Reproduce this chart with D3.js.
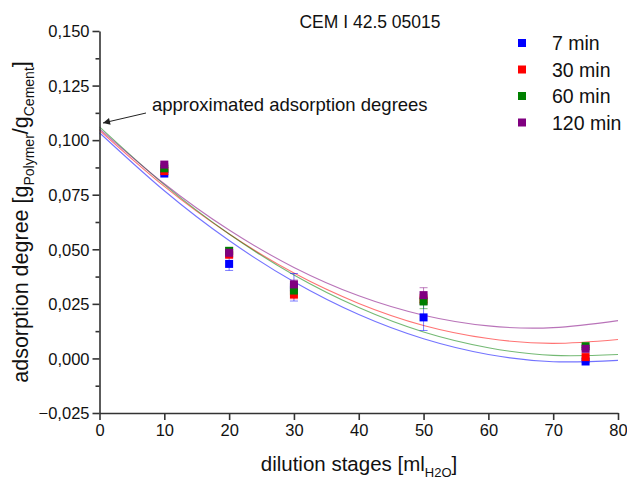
<!DOCTYPE html>
<html>
<head>
<meta charset="utf-8">
<script src="https://cdn.jsdelivr.net/npm/d3@7"></script>
<style>
  body { margin: 0; background: #fff; }
  text { font-family: "Liberation Sans", Arial, sans-serif; fill: #111; }
</style>
</head>
<body>
<div id="chart"></div>
<script>
// dilution stages where adsorption was measured
var stages = [10, 20, 30, 50, 75];
var seriesNames = ["7 min", "30 min", "60 min", "120 min"];
var seriesColors = ["#0000ff", "#ff0000", "#008000", "#800080"];

// measured adsorption degree per series
var ads7 = [0.0847, 0.0433, 0.0326, 0.0188, -0.0014];
var ads30 = [0.0858, 0.0475, 0.0293, 0.0270, 0.0006];
var ads60 = [0.0871, 0.0493, 0.0311, 0.0261, 0.0056];
var ads120 = [0.0888, 0.0484, 0.0339, 0.0290, 0.0044];

// error bars (+/-)
var err7 = [0.0005, 0.0030, 0.0063, 0.0060, 0.0005];
var err30 = [0.0005, 0.0010, 0.0020, 0.0020, 0.0005];
var err60 = [0.0005, 0.0015, 0.0020, 0.0033, 0.0005];
var err120 = [0.0005, 0.0015, 0.0020, 0.0034, 0.0005];

// fitted curves read at 0,10,...,80
var fitX = [0, 10, 20, 30, 40, 50, 60, 70, 80];
var fit7 = [0.1034, 0.0768, 0.0540, 0.0351, 0.0201, 0.0090, 0.0018, -0.0015, -0.0009];
var fit30 = [0.1045, 0.0788, 0.0570, 0.0391, 0.0252, 0.0151, 0.0091, 0.0069, 0.0087];
var fit60 = [0.1061, 0.0796, 0.0570, 0.0382, 0.0233, 0.0121, 0.0049, 0.0014, 0.0018];
var fit120 = [0.1052, 0.0800, 0.0588, 0.0417, 0.0287, 0.0198, 0.0149, 0.0141, 0.0173];

var xTicks = [0, 10, 20, 30, 40, 50, 60, 70, 80];
var yTicks = [-0.025, 0, 0.025, 0.05, 0.075, 0.1, 0.125, 0.15];

var measured = [ads7, ads30, ads60, ads120];
var errors = [err7, err30, err60, err120];
var fits = [fit7, fit30, fit60, fit120];

var W = 627, H = 480;
var margin = {top: 31, right: 9, bottom: 67, left: 99.5},
	width = W - margin.left - margin.right,
	height = H - margin.top - margin.bottom;

var svg = d3.select("#chart")
	.append("svg")
	.attr("width", W)
	.attr("height", H);

var g = svg.append("g")
	.attr("transform", "translate(" + margin.left + "," + margin.top + ")");

var x = d3.scaleLinear().domain([0, 80]).range([0, width]);
var y = d3.scaleLinear().domain([-0.025, 0.15]).range([height, 0]);

var fmt = function(d) { return d3.format(".3f")(d).replace(".", ","); };

// fitted curves (drawn first, under the squares)
var line = d3.line()
	.x(function(d) { return x(d[0]); })
	.y(function(d) { return y(d[1]); })
	.curve(d3.curveNatural);

fits.forEach(function(f, i) {
	g.append("path")
		.datum(fitX.map(function(v, j) { return [v, f[j]]; }))
		.attr("fill", "none")
		.attr("stroke", seriesColors[i])
		.attr("stroke-opacity", 0.55)
		.attr("stroke-width", 1.1)
		.attr("d", line);
});

// error bars
measured.forEach(function(vals, i) {
	var eb = g.append("g")
		.attr("stroke", seriesColors[i])
		.attr("stroke-opacity", 0.5)
		.attr("stroke-width", 1);
	stages.forEach(function(s, j) {
		var cx = x(s), lo = y(vals[j] - errors[i][j]), hi = y(vals[j] + errors[i][j]);
		eb.append("line").attr("x1", cx).attr("x2", cx).attr("y1", lo).attr("y2", hi);
		eb.append("line").attr("x1", cx - 4).attr("x2", cx + 4).attr("y1", lo).attr("y2", lo);
		eb.append("line").attr("x1", cx - 4).attr("x2", cx + 4).attr("y1", hi).attr("y2", hi);
	});
});

// squares
measured.forEach(function(vals, i) {
	g.append("g")
		.selectAll("rect")
		.data(vals)
		.enter()
		.append("rect")
			.attr("x", function(d, j) { return x(stages[j]) - 4; })
			.attr("y", function(d) { return y(d) - 4; })
			.attr("width", 8)
			.attr("height", 8)
			.attr("fill", seriesColors[i]);
});

// axes
var yAxis = g.append("g")
	.call(d3.axisLeft(y).tickValues(yTicks).tickFormat(fmt).tickSize(7).tickSizeOuter(0));
var yMinor = g.append("g")
	.call(d3.axisLeft(y).tickValues(yTicks.slice(0, -1).map(function(d) { return d + 0.0125; }))
		.tickFormat("").tickSize(4).tickSizeOuter(0));
yMinor.select(".domain").remove();

var xAxis = g.append("g")
	.attr("transform", "translate(0," + height + ")")
	.call(d3.axisBottom(x).tickValues(xTicks).tickFormat(d3.format("d")).tickSize(7).tickSizeOuter(0));

[yAxis, yMinor, xAxis].forEach(function(a) {
	a.selectAll("path, line").attr("stroke", "#333").attr("stroke-width", 1.6);
	a.selectAll("text")
		.style("font-family", "'Liberation Sans', Arial, sans-serif")
		.style("font-size", "16.5px")
		.attr("fill", "#111");
});
yAxis.selectAll("text").attr("x", -10).attr("dy", "0.35em");
xAxis.selectAll("text").attr("y", 11);

// title
svg.append("text")
	.attr("x", 370)
	.attr("y", 28)
	.attr("text-anchor", "middle")
	.style("font-size", "17.5px")
	.text("CEM I 42.5 05015");

// legend
var legend = svg.append("g");
seriesNames.forEach(function(name, i) {
	var ly = 43 + i * 26.5;
	legend.append("rect")
		.attr("x", 518).attr("y", ly - 4)
		.attr("width", 8).attr("height", 8)
		.attr("fill", seriesColors[i]);
	legend.append("text")
		.attr("x", 552).attr("y", ly + 7)
		.style("font-size", "19.5px")
		.text(name);
});

// annotation
svg.append("defs").append("marker")
	.attr("id", "arrow")
	.attr("viewBox", "0 0 10 10")
	.attr("refX", 10).attr("refY", 5)
	.attr("markerWidth", 9).attr("markerHeight", 7)
	.attr("markerUnits", "userSpaceOnUse")
	.attr("orient", "auto")
	.append("path")
	.attr("d", "M0,0 L10,5 L0,10 z")
	.attr("fill", "#222");

svg.append("line")
	.attr("x1", 146).attr("y1", 113)
	.attr("x2", 103).attr("y2", 123)
	.attr("stroke", "#222")
	.attr("stroke-width", 1)
	.attr("marker-end", "url(#arrow)");

svg.append("text")
	.attr("x", 152).attr("y", 111)
	.style("font-size", "18.5px")
	.text("approximated adsorption degrees");

// axis titles
var xt = svg.append("text")
	.attr("x", 359).attr("y", 471)
	.attr("text-anchor", "middle")
	.style("font-size", "20.5px");
xt.append("tspan").text("dilution stages [ml");
xt.append("tspan").attr("dy", 6).style("font-size", "13px").text("H2O");
xt.append("tspan").attr("dy", -6).text("]");

var yt = svg.append("text")
	.attr("transform", "translate(28,222) rotate(-90)")
	.attr("text-anchor", "middle")
	.style("font-size", "21.5px");
yt.append("tspan").text("adsorption degree [g");
yt.append("tspan").attr("dy", 6).style("font-size", "14px").text("Polymer");
yt.append("tspan").attr("dy", -6).text("/g");
yt.append("tspan").attr("dy", 6).style("font-size", "14px").text("Cement");
yt.append("tspan").attr("dy", -6).text("]");
</script>
</body>
</html>
